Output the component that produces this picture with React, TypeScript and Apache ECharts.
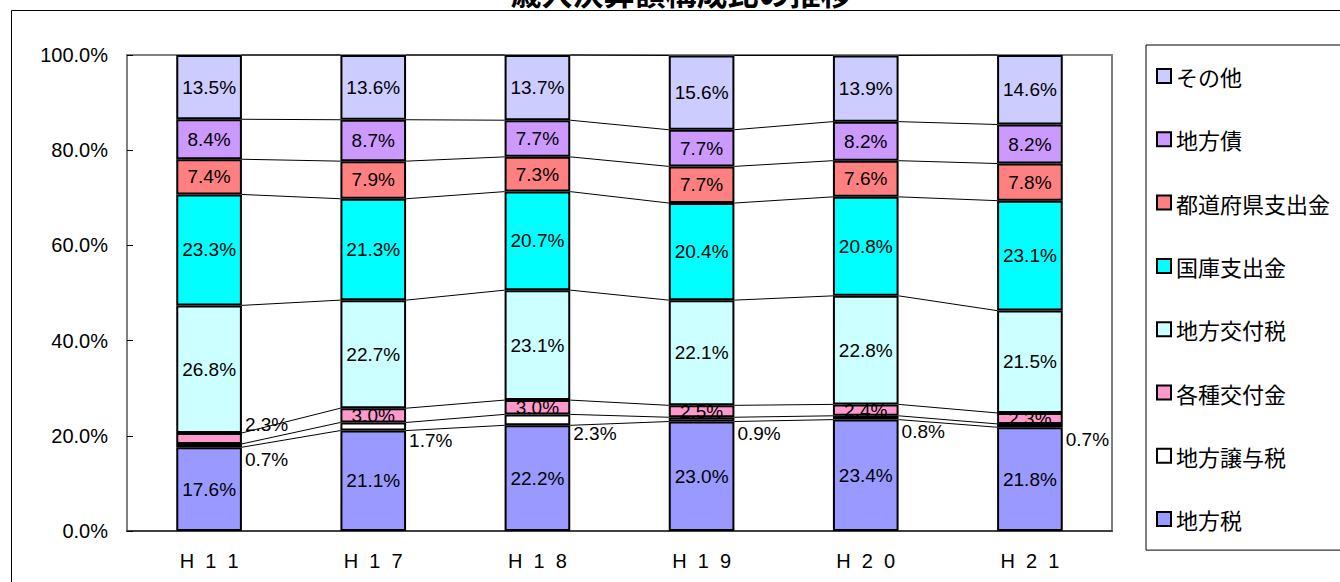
import React, { useEffect, useRef } from "react";
import * as echarts from "echarts";

const title = "歳入決算額構成比の推移";
const categories = ["H11", "H17", "H18", "H19", "H20", "H21"];
const yTicks = [0, 20, 40, 60, 80, 100];

const seriesNames = [
  "地方税",
  "地方譲与税",
  "各種交付金",
  "地方交付税",
  "国庫支出金",
  "都道府県支出金",
  "地方債",
  "その他",
];
const chihouzei = [17.6, 21.1, 22.2, 23.0, 23.4, 21.8];
const jouyozei = [0.7, 1.7, 2.3, 0.9, 0.8, 0.7];
const kakushu = [2.3, 3.0, 3.0, 2.5, 2.4, 2.3];
const koufuzei = [26.8, 22.7, 23.1, 22.1, 22.8, 21.5];
const kokko = [23.3, 21.3, 20.7, 20.4, 20.8, 23.1];
const todoufuken = [7.4, 7.9, 7.3, 7.7, 7.6, 7.8];
const chihousai = [8.4, 8.7, 7.7, 7.7, 8.2, 8.2];
const sonota = [13.5, 13.6, 13.7, 15.6, 13.9, 14.6];
const seriesValues = [chihouzei, jouyozei, kakushu, koufuzei, kokko, todoufuken, chihousai, sonota];
const seriesColors = ["#9999FF", "#FFFFFF", "#FF99CC", "#CCFFFF", "#00FFFF", "#FF8080", "#CC99FF", "#CCCCFF"];

const LATIN = '"Liberation Sans", Arial, sans-serif';
const CJK = '"Noto Sans CJK JP", "Noto Sans", sans-serif';
const BAR_RATIO = 0.4;

export default function App() {
  const ref = useRef<HTMLDivElement>(null);
  useEffect(() => {
    document.body.style.margin = "0";
    const chart = echarts.init(ref.current!, null, { renderer: "svg" });
    const fmt = (v: number) => v.toFixed(1) + "%";

    const cum: number[][] = categories.map((_, i) => {
      let s = 0;
      return seriesValues.map((arr) => (s += arr[i]));
    });

    const barSeries = seriesValues.map((vals, si) => ({
      name: seriesNames[si],
      type: "bar",
      stack: "total",
      barWidth: "40%",
      itemStyle: { color: seriesColors[si], borderColor: "#000", borderWidth: 2 },
      label: {
        show: true,
        position: si === 1 ? "right" : "inside",
        distance: 3,
        offset: si === 1 ? [0, 14] : [0, 0],
        color: "#000",
        fontFamily: LATIN,
        fontSize: 19,
        formatter: (p: any) => fmt(p.value),
      },
      data: vals.map((v, i) =>
        si === 2 && i === 0
          ? { value: v, label: { position: "right", offset: [0, -14], distance: 3 } }
          : v
      ),
    }));

    const linesSeries = {
      type: "custom",
      silent: true,
      z: 1,
      data: categories.slice(0, -1).map((_, i) => [i]),
      renderItem: (params: any, api: any) => {
        const i = api.value(0);
        const bw = api.size([1, 0])[0] * BAR_RATIO;
        const children = cum[i].map((c, k) => {
          const p1 = api.coord([i, c]);
          const p2 = api.coord([i + 1, cum[i + 1][k]]);
          return {
            type: "line",
            shape: { x1: p1[0] + bw / 2, y1: p1[1], x2: p2[0] - bw / 2, y2: p2[1] },
            style: { stroke: "#000", lineWidth: 1 },
          };
        });
        return { type: "group", children };
      },
    };

    chart.setOption({
      animation: false,
      graphic: [
        {
          type: "rect",
          z: -10,
          shape: { x: 11.5, y: 10.5, width: 1400, height: 700 },
          style: { fill: "none", stroke: "#000", lineWidth: 1 },
        },
        {
          type: "text",
          x: 681,
          y: 7,
          style: {
            text: title,
            textAlign: "center",
            textVerticalAlign: "bottom",
            font: `bold 31px ${CJK}`,
            fill: "#000",
          },
        },
      ],
      legend: {
        orient: "vertical",
        left: 1146,
        top: 45,
        padding: [19, 40, 19, 10],
        borderColor: "#000",
        borderWidth: 1,
        itemWidth: 14,
        itemHeight: 14,
        itemGap: 39.3,
        icon: "rect",
        data: [...seriesNames].reverse(),
        textStyle: { fontFamily: CJK, fontSize: 22, lineHeight: 24, color: "#000" },
      },
      grid: {
        left: 127,
        top: 55,
        right: 228,
        bottom: 51,
        show: true,
        borderColor: "#808080",
        borderWidth: 2,
        backgroundColor: "#fff",
      },
      xAxis: {
        type: "category",
        data: categories,
        axisTick: { show: false },
        axisLine: { lineStyle: { color: "#404040", width: 2 } },
        axisLabel: {
          color: "#000",
          fontFamily: LATIN,
          fontSize: 20,
          margin: 20,
          formatter: (v: string) => v.split("").join("  "),
        },
      },
      yAxis: {
        type: "value",
        min: yTicks[0],
        max: yTicks[yTicks.length - 1],
        interval: 20,
        splitLine: { show: false },
        axisLine: { show: true, lineStyle: { color: "#808080", width: 2 } },
        axisTick: { show: true, inside: true, length: 6, lineStyle: { color: "#000" } },
        axisLabel: {
          color: "#000",
          fontFamily: LATIN,
          fontSize: 20,
          margin: 19,
          formatter: (v: number) => fmt(v),
        },
      },
      series: [...barSeries, linesSeries],
    });
    return () => chart.dispose();
  }, []);
  return (
    <div
      ref={ref}
      style={{ position: "absolute", left: 0, top: 0, width: 1340, height: 582 }}
    />
  );
}
